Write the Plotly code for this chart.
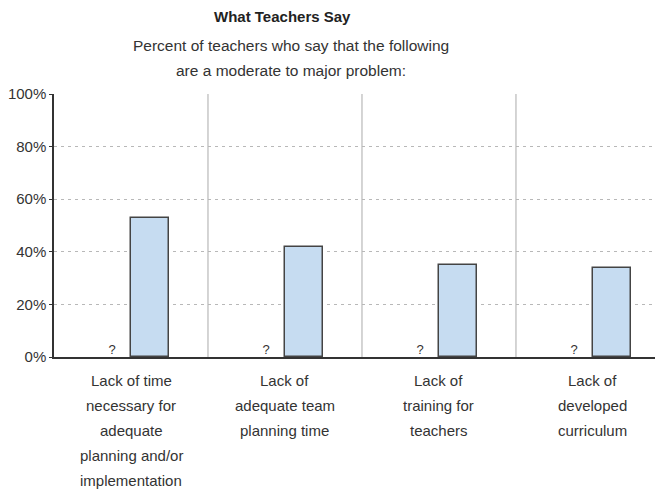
import plotly.graph_objects as go

categories = [
    "Lack of time<br>necessary for<br>adequate<br>planning and/or<br>implementation",
    "Lack of<br>adequate team<br>planning time",
    "Lack of<br>training for<br>teachers",
    "Lack of<br>developed<br>curriculum",
]
unknown_labels = ["?", "?", "?", "?"]
values = [53, 42, 35, 34]
ytick_vals = [0, 20, 40, 60, 80, 100]
ytick_text = ["0%", "20%", "40%", "60%", "80%", "100%"]
title = "What Teachers Say"
subtitle = ["Percent of teachers who say that the following", "are a moderate to major problem:"]

FONT = "Liberation Sans, Arial, sans-serif"
TXT = "#333333"
idx = list(range(len(categories)))
bw = 0.246

# page offset (body margin) compensation
OFF = 8
PLOT_TOP = 94
PLOT_BOTTOM = 357
PLOT_LEFT = 52

fig = go.Figure()
fig.add_trace(go.Bar(
    x=[i + bw / 2 for i in idx], y=values, width=bw,
    marker=dict(color="#c6dcf1", line=dict(color="#444444", width=1.5)),
    hoverinfo="y", showlegend=False,
))
fig.add_trace(go.Scatter(
    x=[i - bw / 2 for i in idx], y=[0] * len(idx), mode="text",
    text=unknown_labels, textposition="top center",
    textfont=dict(family=FONT, size=13, color=TXT), showlegend=False,
))

shapes = []
for k in range(len(categories) - 1):
    shapes.append(dict(type="line", xref="x", yref="y", x0=k + 0.5, x1=k + 0.5, y0=0, y1=100,
                       line=dict(color="#aaaaaa", width=1), layer="below"))

annotations = []
annotations.append(dict(text="<b>" + title + "</b>", xref="paper", yref="paper",
                        x=(281 - PLOT_LEFT) / 611, y=1, yanchor="middle",
                        yshift=PLOT_TOP - 16,
                        showarrow=False, font=dict(family=FONT, size=15, color="#222222")))
for j, line in enumerate(subtitle):
    annotations.append(dict(text=line, xref="paper", yref="paper",
                            x=(290 - PLOT_LEFT) / 611, y=1, yanchor="middle",
                            yshift=PLOT_TOP - (45 + 25 * j),
                            showarrow=False, font=dict(family=FONT, size=15.5, color=TXT)))
for i, cat in enumerate(categories):
    for j, line in enumerate(cat.split("<br>")):
        annotations.append(dict(text=line, xref="x", yref="paper", x=i, y=0, yanchor="middle",
                                yshift=-(380 + 25 * j - PLOT_BOTTOM), showarrow=False,
                                font=dict(family=FONT, size=15, color=TXT)))

W, H = 663 - OFF, 498 - OFF
fig.update_layout(
    width=W, height=H,
    margin=dict(l=PLOT_LEFT - OFF, r=0, t=PLOT_TOP - OFF, b=H - (PLOT_BOTTOM - OFF)),
    paper_bgcolor="white", plot_bgcolor="white",
    font=dict(family=FONT, size=14, color=TXT),
    shapes=shapes, annotations=annotations,
    xaxis=dict(range=[-0.5, 3.5 - 7 / 154.5], showticklabels=False, showgrid=False,
               zeroline=False, showline=True, linecolor="#333333", linewidth=1.5,
               ticks="", fixedrange=True),
    yaxis=dict(range=[0, 100], tickvals=ytick_vals, ticktext=ytick_text,
               showgrid=True, gridcolor="#b8b8b8", griddash="3px,4px", gridwidth=1,
               zeroline=False, showline=True, linecolor="#333333", linewidth=1.5,
               ticks="outside", ticklen=3, tickcolor="#333333",
               tickfont=dict(family=FONT, size=15, color=TXT), fixedrange=True),
    bargap=0,
)

fig.write_html("out.html")
